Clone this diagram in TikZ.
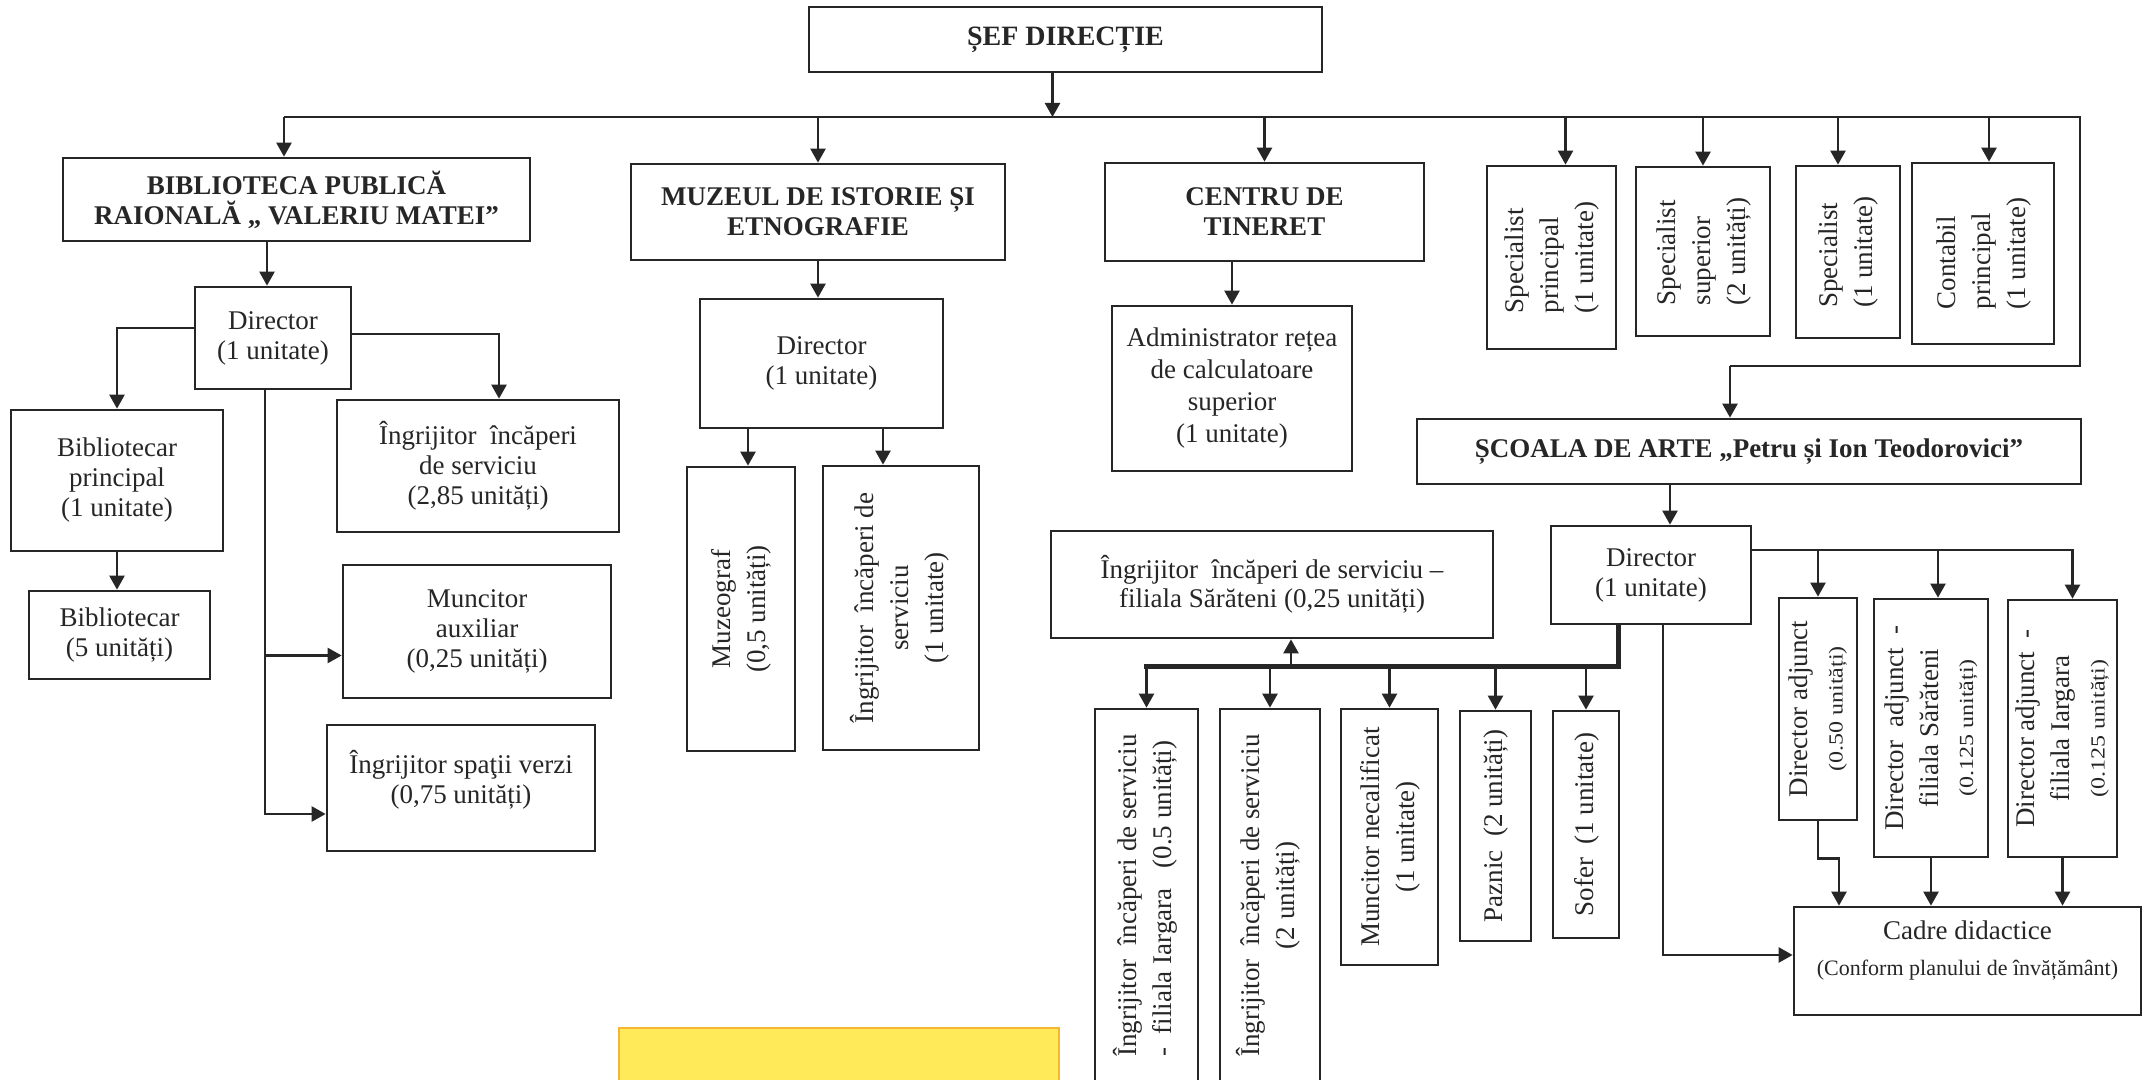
\documentclass[tikz,border=0pt]{standalone}
\usepackage{fontspec}
\setmainfont{Liberation Serif}
\newfontfamily\stretchedserif[FakeStretch=1.2]{Liberation Serif}
\usetikzlibrary{arrows.meta}
\definecolor{ink}{HTML}{262626}
\definecolor{yel}{HTML}{FFEB5A}
\definecolor{yelb}{HTML}{F5B731}
\newcommand{\rottext}[2]{\rotatebox{90}{\fontsize{13.5}{17.5}\selectfont\begin{tabular}{@{}#1@{}}#2\end{tabular}}}
\newcommand{\smalltx}[1]{{\stretchedserif\fontsize{10}{12}\selectfont #1}}
\begin{document}
\begin{tikzpicture}[x=0.5pt,y=-0.5pt,
  box/.style={draw=ink, line width=1.35pt, inner sep=0pt, align=center, text=ink, font=\fontsize{13.5}{15}\selectfont},
  hd/.style={box, font=\fontsize{13.5}{15}\selectfont\bfseries},
  ln/.style={draw=ink, line width=1.2pt},
  arr/.style={ln, -{Triangle[length=7pt,width=7.5pt]}},
  thk/.style={draw=ink, line width=2.5pt, line cap=rect}]
\useasboundingbox (0,0) rectangle (2149,1080);
\fill[white] (0,0) rectangle (2149,1080);

% top level
\node[hd, minimum width=256.5pt, minimum height=32.5pt, font=\fontsize{14}{16}\selectfont\bfseries] (sef) at (1065.5,39.5) {ȘEF DIRECȚIE};
\node[hd, minimum width=233.5pt, minimum height=41.5pt] (bib) at (296.5,199.5) {BIBLIOTECA PUBLICĂ\\RAIONALĂ „ VALERIU MATEI”};
\node[hd, minimum width=187pt, minimum height=48pt] (muz) at (818,212) {MUZEUL DE ISTORIE ȘI\\ETNOGRAFIE};
\node[hd, minimum width=159.5pt, minimum height=49pt] (cen) at (1264.5,212) {CENTRU DE\\TINERET};
\node[box, minimum width=64.5pt, minimum height=91.5pt] (sp1) at (1551.5,257.5) {\rottext{l}{Specialist\\principal\\(1 unitate)}};
\node[box, minimum width=67pt, minimum height=84.5pt] (sp2) at (1703,251.5) {\rottext{l}{Specialist\\superior\\(2 unități)}};
\node[box, minimum width=52pt, minimum height=86pt] (sp3) at (1848,252) {\rottext{l}{Specialist\\(1 unitate)}};
\node[box, minimum width=71pt, minimum height=90.5pt] (cont) at (1983,253.5) {\rottext{l}{Contabil\\principal\\(1 unitate)}};

% biblioteca
\node[box, minimum width=78pt, minimum height=51pt] (bibdir) at (273,338) {Director\\(1 unitate)};
\node[box, minimum width=106pt, minimum height=70.5pt] (bp) at (117,480.5) {Bibliotecar\\principal\\(1 unitate)};
\node[box, minimum width=90.5pt, minimum height=44pt] (bib5) at (119.5,635) {Bibliotecar\\(5 unități)};
\node[box, minimum width=141pt, minimum height=66pt] (ii) at (478,466) {Îngrijitor\ \ încăperi\\de serviciu\\(2,85 unități)};
\node[box, minimum width=134pt, minimum height=66.5pt] (ma) at (477,631.5) {Muncitor\\auxiliar\\(0,25 unități)};
\node[box, minimum width=134pt, minimum height=63pt] (isv) at (461,788) {Îngrijitor spaţii verzi\\(0,75 unități)\\[-4pt]\mbox{}};

% muzeu
\node[box, minimum width=121.5pt, minimum height=64.5pt] (muzdir) at (821.5,363.5) {Director\\(1 unitate)};
\node[box, minimum width=54pt, minimum height=142pt] (mzg) at (741,609) {\rottext{c}{Muzeograf\\(0,5 unități)}};
\node[box, minimum width=78pt, minimum height=142pt] (mii) at (901,608) {\rottext{c}{Îngrijitor\ \ încăperi de\\serviciu\\(1 unitate)}};

% centru
\node[box, minimum width=120pt, minimum height=82.5pt, font=\fontsize{13.5}{16}\selectfont] (admin) at (1232,388.5) {Administrator rețea\\de calculatoare\\superior\\(1 unitate)};

% scoala
\node[hd, minimum width=332pt, minimum height=32.5pt] (scoala) at (1749,451.5) {ȘCOALA DE ARTE „Petru și Ion Teodorovici”};
\node[box, minimum width=100pt, minimum height=49pt] (sdir) at (1651,575) {Director\\(1 unitate)};
\node[box, minimum width=221pt, minimum height=53.5pt, font=\fontsize{13.5}{14.5}\selectfont] (isar) at (1272,584.5) {Îngrijitor\ \ încăperi de serviciu –\\filiala Sărăteni (0,25 unități)};
\node[box, minimum width=51.5pt, minimum height=186.5pt] (v1) at (1146.5,895.5) {\rottext{l}{Îngrijitor\ \ încăperi de serviciu\\-\ \ filiala Iargara\ \ \ (0.5 unități)}};
\node[box, minimum width=50pt, minimum height=186.5pt] (v2) at (1270,895.5) {\rottext{c}{Îngrijitor\ \ încăperi de serviciu\\(2 unități)}};
\node[box, minimum width=48.5pt, minimum height=128pt] (mnc) at (1389.5,837) {\rottext{c}{Muncitor necalificat\\(1 unitate)}};
\node[box, minimum width=35.5pt, minimum height=115pt] (paz) at (1495.5,826) {\rottext{c}{Paznic\ \ (2 unități)}};
\node[box, minimum width=33pt, minimum height=113.5pt] (sof) at (1586,824.5) {\rottext{c}{Sofer\ \ (1 unitate)}};
\node[box, minimum width=39pt, minimum height=111pt] (da) at (1818,709) {\rottext{c}{Director adjunct\\\smalltx{(0.50 unități)}}};
\node[box, minimum width=57pt, minimum height=129pt] (das) at (1931,728) {\rottext{c}{Director\ \ adjunct\ \ -\\filiala Sărăteni\\\smalltx{(0.125 unități)}}};
\node[box, minimum width=54.5pt, minimum height=128.5pt] (dai) at (2062.5,728.5) {\rottext{c}{Director adjunct\ \ -\\filiala Iargara\\\smalltx{(0.125 unități)}}};
\node[box, minimum width=173.5pt, minimum height=54pt] (cadre) at (1967.5,961) {Cadre didactice\\[3pt]{\fontsize{11}{13}\selectfont(Conform planului de învățământ)}\\[-2pt]\mbox{}};

% yellow patch
\draw[draw=yelb, fill=yel, line width=1pt] (619,1028) rectangle (1059,1095);

% main bus
\coordinate (busL) at (284,117);
\coordinate (busR) at (2080,117);
\coordinate (sj) at (2080,366);
\coordinate (sk) at (1730,366);
\coordinate (sefA) at ([xshift=-6.5pt]sef.south);
\draw[arr] (sefA) -- (sefA |- busL);
\draw[ln] (busL) -- (busR) -- (sj) -- (sk);
\draw[arr] (sk) -- (sk |- scoala.north);
\draw[arr] (busL) -- (busL |- bib.north);
\draw[arr] (muz.north |- busL) -- (muz.north);
\draw[arr] (cen.north |- busL) -- (cen.north);
\coordinate (sp1A) at ([xshift=7pt]sp1.north);
\draw[arr] (sp1A |- busL) -- (sp1A);
\draw[arr] (sp2.north |- busL) -- (sp2.north);
\coordinate (sp3A) at ([xshift=-5pt]sp3.north);
\draw[arr] (sp3A |- busL) -- (sp3A);
\coordinate (contA) at ([xshift=3pt]cont.north);
\draw[arr] (contA |- busL) -- (contA);

% biblioteca connectors
\coordinate (bibA) at ([xshift=-3pt]bibdir.north);
\draw[arr] (bibA |- bib.south) -- (bibA);
\draw[arr] ([yshift=5pt]bibdir.west) -| (bp.north);
\coordinate (iiA) at ([xshift=10.5pt]ii.north);
\draw[arr] ([yshift=2pt]bibdir.east) -| (iiA);
\draw[arr] (bp.south) -- (bp.south |- bib5.north);
\coordinate (bv) at ([xshift=-4pt]bibdir.south);
\coordinate (maIn) at ([yshift=-12pt]ma.west);
\coordinate (isvIn) at ([yshift=-13pt]isv.west);
\draw[arr] (bv) |- (isvIn);
\draw[arr] (bv |- maIn) -- (maIn);

% muzeu connectors
\draw[arr] (muz.south) -- (muz.south |- muzdir.north);
\coordinate (mzgA) at ([xshift=3.5pt]mzg.north);
\coordinate (miiA) at ([xshift=-9pt]mii.north);
\draw[arr] (mzgA |- muzdir.south) -- (mzgA);
\draw[arr] (miiA |- muzdir.south) -- (miiA);

% centru connector
\draw[arr] (cen.south -| admin.north) -- (admin.north);

% scoala connectors
\coordinate (sdA) at ([xshift=9.5pt]sdir.north);
\draw[arr] (sdA |- scoala.south) -- (sdA);
\coordinate (tk) at ([xshift=-16.5pt]sdir.south);
\coordinate (tbus) at (0,667);
\draw[thk] (tk) -- (tk |- tbus) -- (v1.north |- tbus);
\foreach \n in {v1,v2,mnc,paz,sof} \draw[arr] (\n.north |- tbus) -- (\n.north);
\coordinate (isarA) at ([xshift=9.5pt]isar.south);
\draw[arr] (isarA |- tbus) -- (isarA);
\coordinate (rb) at ([yshift=12.5pt]sdir.east);
\coordinate (daiA) at ([xshift=5pt]dai.north);
\coordinate (dasA) at ([xshift=3.5pt]das.north);
\draw[arr] (rb) -| (daiA);
\draw[arr] (rb -| da.north) -- (da.north);
\draw[arr] (rb -| dasA) -- (dasA);
\coordinate (cA) at ([xshift=-64.25pt]cadre.north);
\draw[arr] (da.south) -- (da.south |- das.south) -| (cA);
\draw[arr] (das.south) -- (das.south |- cadre.north);
\draw[arr] (dai.south) -- (dai.south |- cadre.north);
\coordinate (sdB) at ([xshift=6pt]sdir.south);
\draw[arr] (sdB) |- ([yshift=3pt]cadre.west);
\end{tikzpicture}
\end{document}
